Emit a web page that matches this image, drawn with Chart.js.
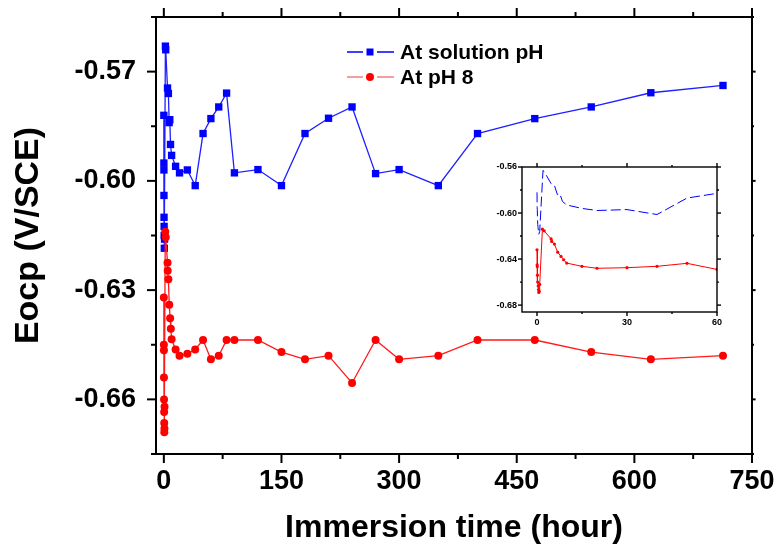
<!DOCTYPE html>
<html>
<head>
<meta charset="utf-8">
<title>Eocp vs immersion time</title>
<script src="https://cdn.jsdelivr.net/npm/chart.js@4.4.1/dist/chart.umd.min.js"></script>
<style>
    html, body { margin: 0; padding: 0; background: #fff; }
    #wrap { position: relative; width: 780px; height: 551px; }
    #mainChart  { position: absolute; left: 0; top: 0; }
    #insetChart { position: absolute; left: 470px; top: 150px; }
</style>
</head>
<body>
<div id="wrap">
    <canvas id="mainChart" width="780" height="551"></canvas>
    <canvas id="insetChart" width="260" height="190"></canvas>
</div>
<script>
// ── Data ──────────────────────────────────────────────────────────────────────
const seriesNames = ["At solution pH", "At pH 8"];

const timeSolution = [0, 0.05, 0.1, 0.15, 0.25, 0.35, 0.45, 0.6, 0.9, 2.0, 2.4, 4.7, 5.8, 6.8, 7.6, 8.5, 9.9,
    15, 20, 30, 40, 50, 60, 70, 80, 90, 120, 150, 180, 210, 240, 270, 300, 350, 400, 473, 545, 621, 713];
const eocpSolution = [-0.582, -0.5951, -0.597, -0.604, -0.610, -0.6125, -0.615, -0.6185, -0.616, -0.563, -0.564,
    -0.5745, -0.576, -0.584, -0.5832, -0.590, -0.593, -0.596, -0.5978, -0.597, -0.6013, -0.587, -0.5829,
    -0.5797, -0.5759, -0.5978, -0.5969, -0.6013, -0.587, -0.5828, -0.5797, -0.598, -0.5969, -0.6013,
    -0.587, -0.5829, -0.5797, -0.5758, -0.5738];

const timePh8 = [0, 0.05, 0.1, 0.15, 0.25, 0.4, 0.5, 0.6, 0.75, 0.9, 1.8, 2.4, 4.7, 4.9, 5.8, 6.9, 8, 8.9, 9.9,
    15, 20, 30, 40, 50, 60, 70, 80, 90, 120, 150, 180, 210, 240, 270, 300, 350, 400, 473, 545, 621, 713];
const eocpPh8 = [-0.632, -0.645, -0.6465, -0.654, -0.660, -0.6635, -0.6665, -0.669, -0.668, -0.662, -0.614,
    -0.6155, -0.6225, -0.6247, -0.627, -0.634, -0.6377, -0.6406, -0.6435, -0.6463, -0.648, -0.6475,
    -0.6463, -0.6437, -0.649, -0.648, -0.6437, -0.6437, -0.6437, -0.647, -0.649, -0.648, -0.6555,
    -0.6437, -0.649, -0.648, -0.6437, -0.6437, -0.647, -0.649, -0.648];

// main axes
const xMajorTicks = [0, 150, 300, 450, 600, 750];
const xMinorTicks = [75, 225, 375, 525, 675];
const yMajorTicks = [-0.66, -0.63, -0.60, -0.57];
const yMinorTicks = [-0.675, -0.645, -0.615, -0.585, -0.555];

// inset axes
const insetXMajor = [0, 30, 60];
const insetXMinor = [15, 45];
const insetYMajor = [-0.68, -0.64, -0.60, -0.56];
const insetYMinor = [-0.66, -0.62, -0.58];

// ── Helpers ───────────────────────────────────────────────────────────────────
const FONT = "'Liberation Sans', Arial, sans-serif";
const toPoints = (xs, ys) => xs.map((x, i) => ({ x, y: ys[i] }));
const isMajor = (list, v) => list.some(m => Math.abs(m - v) < 1e-9);

function setTicks(values) {
    return scale => { scale.ticks = values.slice().sort((a, b) => a - b).map(value => ({ value })); };
}

// fixed scale size, no extra label padding (keeps the plot box where the figure has it)
function fixX(h) {
    return s => { s.height = h; s.paddingLeft = 0; s.paddingRight = 0; };
}
function fixY(w) {
    return s => { s.width = w; s.paddingTop = 0; s.paddingBottom = 0; };
}

// frame round the plot + hand-drawn major/minor tick marks
function frameTicks(opt) {
    return {
        id: "frameTicks",
        afterDraw(chart) {
            const { ctx, chartArea: a, scales: { x, y } } = chart;
            const line = (x1, y1, x2, y2) => { ctx.beginPath(); ctx.moveTo(x1, y1); ctx.lineTo(x2, y2); ctx.stroke(); };
            ctx.save();
            ctx.strokeStyle = "#000";
            ctx.lineWidth = opt.width;
            ctx.strokeRect(a.left, a.top, a.right - a.left, a.bottom - a.top);

            [[opt.xMajor, opt.major], [opt.xMinor, opt.minor]].forEach(([vals, len]) => vals.forEach(v => {
                const px = x.getPixelForValue(v);
                line(px, a.bottom, px, a.bottom + len);
                line(px, a.top, px, a.top - len * opt.topScale);
            }));
            [[opt.yMajor, opt.major], [opt.yMinor, opt.minor]].forEach(([vals, len]) => vals.forEach(v => {
                const py = y.getPixelForValue(v);
                line(a.left, py, a.left - len, py);
                line(a.right, py, a.right + len * opt.rightScale, py);
            }));
            ctx.restore();
        }
    };
}

// legend with line - marker - line samples
const legendPlugin = {
    id: "sampleLegend",
    afterDraw(chart) {
        const { ctx } = chart;
        const rows = [
            { y: 52, line: "#0000ff", fill: "#0000ff", square: true,  text: seriesNames[0] },
            { y: 77, line: "#f08080", fill: "#ff0000", square: false, text: seriesNames[1] }
        ];
        ctx.save();
        rows.forEach(r => {
            ctx.strokeStyle = r.line;
            ctx.lineWidth = 1.5;
            ctx.beginPath();
            ctx.moveTo(347, r.y); ctx.lineTo(363, r.y);
            ctx.moveTo(377, r.y); ctx.lineTo(394, r.y);
            ctx.stroke();
            ctx.fillStyle = r.fill;
            if (r.square) ctx.fillRect(366.5, r.y - 3.5, 7, 7);
            else { ctx.beginPath(); ctx.arc(370, r.y, 4, 0, Math.PI * 2); ctx.fill(); }
            ctx.fillStyle = "#000";
            ctx.font = `bold 21px ${FONT}`;
            ctx.textBaseline = "middle";
            ctx.fillText(r.text, 400, r.y + 1);
        });
        ctx.restore();
    }
};

// ── Main chart ────────────────────────────────────────────────────────────────
new Chart(document.getElementById("mainChart"), {
    type: "scatter",
    data: {
        datasets: [
            {
                label: seriesNames[1],
                data: toPoints(timePh8, eocpPh8),
                showLine: true,
                borderColor: "#ff1a1a",
                backgroundColor: "#ff0000",
                borderWidth: 1.3,
                pointStyle: "circle",
                pointRadius: 4,
                pointBorderWidth: 0,
                order: 0
            },
            {
                label: seriesNames[0],
                data: toPoints(timeSolution, eocpSolution),
                showLine: true,
                borderColor: "#1f1fff",
                backgroundColor: "#0000ff",
                borderWidth: 1.3,
                pointStyle: "rect",
                pointRadius: 5.2,
                pointBorderWidth: 0,
                order: 1
            }
        ]
    },
    options: {
        responsive: false,
        animation: false,
        layout: { padding: { top: 17, right: 28, left: 0, bottom: 0 } },
        plugins: { legend: { display: false }, tooltip: { enabled: false } },
        scales: {
            x: {
                type: "linear",
                min: -10,
                max: 750,
                afterBuildTicks: setTicks([...xMajorTicks, ...xMinorTicks]),
                afterFit: fixX(97),
                grid: { display: false, drawTicks: false },
                border: { display: false },
                ticks: {
                    autoSkip: false,
                    maxRotation: 0,
                    padding: 11,
                    color: "#000",
                    font: { family: FONT, size: 27, weight: "bold" },
                    callback: v => isMajor(xMajorTicks, v) ? String(v) : ""
                },
                title: {
                    display: true,
                    text: "Immersion time (hour)",
                    color: "#000",
                    padding: { top: 0, bottom: 4 },
                    font: { family: FONT, size: 32, weight: "bold" }
                }
            },
            y: {
                type: "linear",
                min: -0.675,
                max: -0.555,
                afterBuildTicks: setTicks([...yMajorTicks, ...yMinorTicks]),
                afterFit: fixY(156),
                grid: { display: false, drawTicks: false },
                border: { display: false },
                ticks: {
                    autoSkip: false,
                    padding: 20,
                    color: "#000",
                    font: { family: FONT, size: 27, weight: "bold" },
                    callback: v => isMajor(yMajorTicks, v) ? v.toFixed(2) : ""
                },
                title: {
                    display: true,
                    text: "Eocp (V/SCE)",
                    color: "#000",
                    padding: { top: 8, bottom: 0 },
                    font: { family: FONT, size: 34, weight: "bold" }
                }
            }
        }
    },
    plugins: [
        frameTicks({ width: 2, major: 9, minor: 5, topScale: 1, rightScale: 0.4,
                     xMajor: xMajorTicks, xMinor: xMinorTicks, yMajor: yMajorTicks, yMinor: yMinorTicks }),
        legendPlugin
    ]
});

// ── Inset (first 60 h) ────────────────────────────────────────────────────────
new Chart(document.getElementById("insetChart"), {
    type: "scatter",
    data: {
        datasets: [
            {
                label: seriesNames[1],
                data: toPoints(timePh8, eocpPh8),
                showLine: true,
                borderColor: "#ff0000",
                backgroundColor: "#ff0000",
                borderWidth: 1,
                pointRadius: 1.6,
                pointBorderWidth: 0,
                order: 0
            },
            {
                label: seriesNames[0],
                data: toPoints(timeSolution, eocpSolution),
                showLine: true,
                borderColor: "#0000ff",
                borderWidth: 1,
                borderDash: [10, 4],
                pointRadius: 0,
                order: 1
            }
        ]
    },
    options: {
        responsive: false,
        animation: false,
        layout: { padding: { top: 17, right: 13, left: 0, bottom: 0 } },
        plugins: { legend: { display: false }, tooltip: { enabled: false } },
        scales: {
            x: {
                type: "linear",
                min: -5,
                max: 60,
                afterBuildTicks: setTicks([...insetXMajor, ...insetXMinor]),
                afterFit: fixX(28),
                grid: { display: false, drawTicks: false },
                border: { display: false },
                ticks: {
                    autoSkip: false,
                    maxRotation: 0,
                    padding: 5,
                    color: "#000",
                    font: { family: FONT, size: 9, weight: "bold" },
                    callback: v => isMajor(insetXMajor, v) ? String(v) : ""
                }
            },
            y: {
                type: "linear",
                min: -0.686,
                max: -0.56,
                afterBuildTicks: setTicks([...insetYMajor, ...insetYMinor]),
                afterFit: fixY(52),
                grid: { display: false, drawTicks: false },
                border: { display: false },
                ticks: {
                    autoSkip: false,
                    padding: 5,
                    color: "#000",
                    font: { family: FONT, size: 9, weight: "bold" },
                    callback: v => isMajor(insetYMajor, v) ? v.toFixed(2) : ""
                }
            }
        }
    },
    plugins: [
        frameTicks({ width: 1.4, major: 4, minor: 2, topScale: 1, rightScale: 1,
                     xMajor: insetXMajor, xMinor: insetXMinor, yMajor: insetYMajor, yMinor: insetYMinor })
    ]
});
</script>
</body>
</html>
